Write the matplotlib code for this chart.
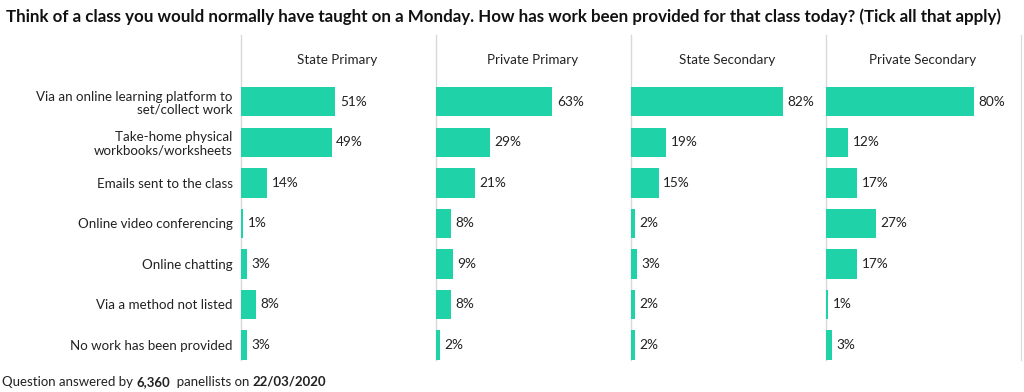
import matplotlib
matplotlib.use("Agg")
import matplotlib.pyplot as plt

plt.rcParams['font.family'] = ['Lato', 'DejaVu Sans']

# Dados
categorias = [
    "Via an online learning platform to\nset/collect work",
    "Take-home physical\nworkbooks/worksheets",
    "Emails sent to the class",
    "Online video conferencing",
    "Online chatting",
    "Via a method not listed",
    "No work has been provided",
]
paineis = ["State Primary", "Private Primary", "State Secondary", "Private Secondary"]
state_primary = [51, 49, 14, 1, 3, 8, 3]
private_primary = [63, 29, 21, 8, 9, 8, 2]
state_secondary = [82, 19, 15, 2, 3, 2, 2]
private_secondary = [80, 12, 17, 27, 17, 1, 3]
valores = [state_primary, private_primary, state_secondary, private_secondary]

cor = "#20d2a8"
W, H = 1024, 392
fig = plt.figure(figsize=(W / 100, H / 100), dpi=100)

# posições dos painéis em pixels
x0 = 241
largura = 195
topo = 35
base = 360

ys = list(range(len(categorias)))
for i, (nome, vals) in enumerate(zip(paineis, valores)):
    ax = fig.add_axes([(x0 + i * largura) / W, 1 - base / H, largura / W, (base - topo) / H])
    ax.barh(ys, vals, height=0.72, color=cor, zorder=3)
    ax.set_xlim(0, 105.5)
    ax.set_ylim(6.37, -1.65)
    for y, v in zip(ys, vals):
        ax.text(v + 2.5, y, f"{v}%", va="center", ha="left", fontsize=9.8, color="#222222")
    ax.text(52, -1.03, nome, ha="center", va="center", fontsize=9.6, color="#222222")
    ax.set_xticks([])
    for s in ["top", "bottom", "right"]:
        ax.spines[s].set_visible(False)
    ax.spines["left"].set_color("#d9d9d9")
    ax.spines["left"].set_linewidth(1)
    ax.spines["left"].set_zorder(1)
    if i == len(paineis) - 1:
        ax.spines["right"].set_visible(True)
        ax.spines["right"].set_color("#d9d9d9")
    if i == 0:
        ax.set_yticks(ys)
        ax.set_yticklabels(categorias, fontsize=9.6, color="#222222", linespacing=1.1)
        ax.tick_params(axis="y", length=0, pad=6)
    else:
        ax.set_yticks([])

fig.text(6 / W, 1 - 17 / H,
         "Think of a class you would normally have taught on a Monday. How has work been provided for that class today? (Tick all that apply)",
         fontsize=12.2, fontweight="bold", va="center", ha="left", color="#111111")

# rodapé com partes em negrito
fig.canvas.draw()
r = fig.canvas.get_renderer()
x = 2 / W
for parte, peso in [("Question answered by ", "normal"), ("6,360", "bold"), ("  panellists on ", "normal"), ("22/03/2020", "bold")]:
    t = fig.text(x, 1 - 382 / H, parte, fontsize=9.5, fontweight=peso, va="center", ha="left", color="#222222")
    bb = t.get_window_extent(renderer=r)
    x += bb.width / W

fig.savefig("out.png", dpi=100)
